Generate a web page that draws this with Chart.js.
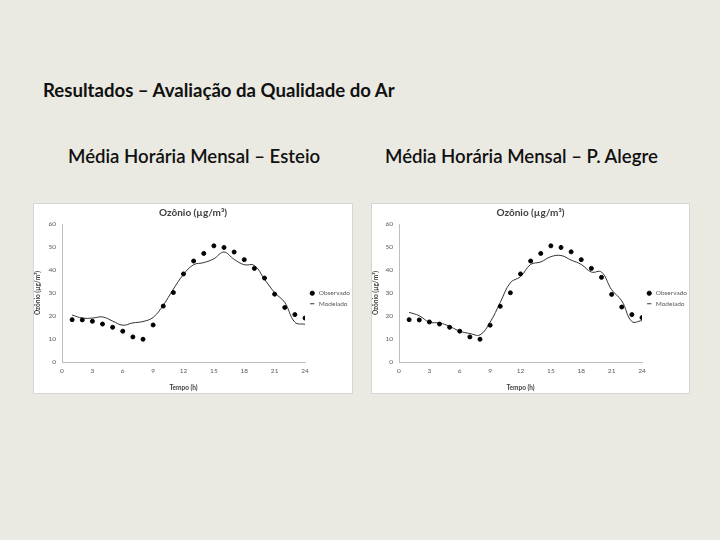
<!DOCTYPE html>
<html>
<head>
<meta charset="utf-8">
<script src="https://cdn.jsdelivr.net/npm/chart.js@4.4.1/dist/chart.umd.min.js"></script>
<style>
  body { margin: 0; background: #ebeae2; width: 720px; height: 540px; position: relative; overflow: hidden; font-family: Lato, "Open Sans", sans-serif; }
  .txt { position: absolute; font-weight: bold; color: #111; white-space: nowrap; font-size: 18.6px; }
  .box { position: absolute; background: #fff; border: 1px solid #d6d6d6; box-sizing: border-box; }
  canvas { display: block; }
</style>
</head>
<body>
<div class="txt" style="left:43px;top:79px;">Resultados – Avaliação da Qualidade do Ar</div>
<div class="txt" style="left:68px;top:145px;font-weight:600;">Média Horária Mensal – Esteio</div>
<div class="txt" style="left:385px;top:145px;font-weight:600;">Média Horária Mensal – P. Alegre</div>

<div class="box" style="left:33px;top:203px;width:320px;height:191px;"><canvas id="esteio" width="318" height="189"></canvas></div>
<div class="box" style="left:371px;top:203px;width:319px;height:191px;"><canvas id="poa" width="317" height="189"></canvas></div>

<script>
// horas do dia
const hours = [1,2,3,4,5,6,7,8,9,10,11,12,13,14,15,16,17,18,19,20,21,22,23,24];
const xTicks = [0,3,6,9,12,15,18,21,24];

// Esteio
const esteioObs = [18.4,18.3,17.7,16.5,15.1,13.4,10.9,9.9,16.1,24.3,30.2,38.3,43.9,47.2,50.5,49.8,47.8,44.5,40.7,36.5,29.5,23.7,20.6,19.1];
const esteioMod = [20.4,19.1,19.1,19.6,17.8,16.0,17.0,17.6,19.4,24.7,31.7,38.1,42.3,43.2,44.9,47.8,44.6,42.3,42.0,36.0,30.2,25.9,17.3,16.4];

// Porto Alegre
const poaObs = [18.4,18.3,17.4,16.5,15.1,13.4,10.9,9.9,16.0,24.2,30.1,38.3,43.9,47.2,50.5,49.8,47.9,44.5,40.7,36.8,29.4,23.9,20.6,19.3];
const poaMod = [21.6,20.1,17.3,17.0,15.5,13.4,12.4,11.8,17.3,25.9,34.5,37.1,42.4,43.5,45.8,46.3,44.3,42.4,39.1,39.1,31.4,26.6,17.6,18.0];

const tickColor = '#595959';
const axisColor = '#bfbfbf';

function pts(vals) {
  return hours.map((h, i) => ({ x: h, y: vals[i] }));
}

// largura fixa da legenda, para a area do grafico bater com o original
const legendWidth = {
  id: 'legendWidth',
  afterInit(chart) {
    const lg = chart.legend;
    const fit = lg.fit;
    lg.fit = function () { fit.call(this); this.width = 47; };
  }
};

function makeChart(id, obs, mod, yWidth) {
  new Chart(document.getElementById(id), {
    type: 'scatter',
    data: {
      datasets: [
        {
          label: 'Observado',
          data: pts(obs),
          backgroundColor: '#000',
          borderColor: '#000',
          pointRadius: 2,
          pointStyle: 'circle',
          showLine: false
        },
        {
          label: 'Modelado',
          data: pts(mod),
          borderColor: '#333',
          backgroundColor: '#333',
          borderWidth: 1,
          pointRadius: 0,
          pointStyle: 'line',
          showLine: true,
          tension: 0.4
        }
      ]
    },
    options: {
      responsive: false,
      animation: false,
      devicePixelRatio: 1,
      layout: { padding: 0 },
      plugins: {
        title: {
          display: true,
          text: 'Ozônio (µg/m³)',
          color: '#404040',
          font: { family: 'Lato', size: 10, weight: 'bold' },
          padding: { top: 3, bottom: 5 }
        },
        legend: {
          position: 'right',
          labels: {
            usePointStyle: true,
            boxWidth: 8,
            boxHeight: 3,
            padding: 4,
            color: tickColor,
            font: { family: 'Lato', size: 6.5 }
          }
        },
        tooltip: { enabled: false }
      },
      scales: {
        x: {
          type: 'linear',
          min: 0,
          max: 24,
          afterBuildTicks: s => { s.ticks = xTicks.map(v => ({ value: v })); },
          afterFit: s => { s.height = 31; },
          grid: { display: false, drawTicks: true, tickLength: 3 },
          border: { color: axisColor },
          ticks: { color: tickColor, font: { family: 'Lato', size: 6.5 }, padding: 2 },
          title: { display: true, text: 'Tempo (h)', color: '#404040', font: { family: 'Lato', size: 6.5, weight: 'bold' }, padding: 1 }
        },
        y: {
          min: 0,
          max: 60,
          afterFit: s => { s.width = yWidth; },
          grid: { display: false, drawTicks: true, tickLength: 3 },
          border: { color: axisColor },
          ticks: { stepSize: 10, color: tickColor, font: { family: 'Lato', size: 6.5 }, padding: 3 },
          title: { display: true, text: 'Ozônio (µg/m³)', color: '#404040', font: { family: 'Lato', size: 6.5, weight: 'bold' }, padding: 0 }
        }
      }
    },
    plugins: [legendWidth]
  });
}

makeChart('esteio', esteioObs, esteioMod, 28);
makeChart('poa', poaObs, poaMod, 27);
</script>
</body>
</html>
